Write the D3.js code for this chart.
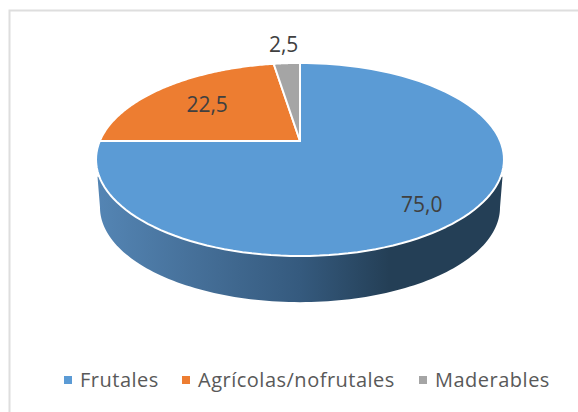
<!DOCTYPE html>
<html>
<head>
<meta charset="utf-8">
<script src="https://cdn.jsdelivr.net/npm/d3@7"></script>
<style>
  html, body { margin: 0; padding: 0; background: #fff; }
  svg { display: block; }
  text { font-family: "Open Sans", sans-serif; }
</style>
</head>
<body>
<div id="chart"></div>
<script>
const categories = ["Frutales", "Agrícolas/nofrutales", "Maderables"];
const values = [75.0, 22.5, 2.5];
const labels = ["75,0", "22,5", "2,5"];
const colors = ["#5b9bd5", "#ed7d31", "#a5a5a5"];

const width = 578, height = 412;
const svg = d3.select("#chart").append("svg")
  .attr("width", width)
  .attr("height", height);

// marco gris, solo arriba y a la izquierda
svg.append("path")
  .attr("d", `M9.5,${height} V10.5 H${width}`)
  .attr("fill", "none")
  .attr("stroke", "#dedede")
  .attr("stroke-width", 2);

// proyección en perspectiva del disco (ángulo desde arriba, horario)
const persp = -0.1917;
const makeProject = (cx, cy, rx, ry) => (angle, r = 1) => {
  const u = r * Math.sin(angle), v = -r * Math.cos(angle);
  const d = 1 + persp * v;
  return [cx + rx * u / d, cy + ry * v / d];
};
const topFace = makeProject(300, 141, 200.2, 93);
const rim = makeProject(300, 141, 202, 93);
const bottomFace = makeProject(300, 189.3, 196.3, 91.2);

const rad = d => d * Math.PI / 180;
const line = d3.line();
const samples = (from, to) => d3.range(0, 121).map(i => from + (to - from) * i / 120);

// gradiente del borde
const defs = svg.append("defs");
const grad = defs.append("linearGradient")
  .attr("id", "wall")
  .attr("gradientUnits", "userSpaceOnUse")
  .attr("x1", 97).attr("x2", 503).attr("y1", 0).attr("y2", 0);
[[0, "#5485b4"], [0.25, "#456f98"], [0.5, "#355a7e"], [0.72, "#243f56"], [1, "#243f56"]]
  .forEach(([o, c]) => grad.append("stop").attr("offset", o).attr("stop-color", c));

// pared lateral
const wallPts = [
  rim(rad(111)),
  ...samples(rad(101), rad(259)).map(a => bottomFace(a)),
  rim(rad(249)),
  ...samples(rad(249), rad(111)).map(a => topFace(a))
];
svg.append("path")
  .attr("d", line(wallPts) + "Z")
  .attr("fill", "url(#wall)");

// sectores
const pie = d3.pie().sort(null)(values);
svg.append("g").selectAll("path")
  .data(pie)
  .join("path")
  .attr("d", d => line([topFace(0, 0), ...samples(d.startAngle, d.endAngle).map(a => topFace(a))]) + "Z")
  .attr("fill", (d, i) => colors[i])
  .attr("stroke", "#fff")
  .attr("stroke-width", 2)
  .attr("stroke-linejoin", "round");

// etiquetas de datos
const labelR = [0.77, 0.66, 1.3];
const labelDy = [7, 0, 0];
svg.append("g").selectAll("text")
  .data(pie)
  .join("text")
  .attr("x", (d, i) => topFace((d.startAngle + d.endAngle) / 2, labelR[i])[0])
  .attr("y", (d, i) => topFace((d.startAngle + d.endAngle) / 2, labelR[i])[1] + labelDy[i])
  .attr("dy", "0.35em")
  .attr("text-anchor", "middle")
  .attr("font-size", 21)
  .attr("fill", "#404040")
  .text((d, i) => labels[i]);

// leyenda
const legendX = [64, 182, 419];
const legend = svg.append("g").selectAll("g")
  .data(categories)
  .join("g")
  .attr("transform", (d, i) => `translate(${legendX[i]},380)`);
legend.append("rect")
  .attr("y", -4).attr("width", 8).attr("height", 8)
  .attr("fill", (d, i) => colors[i]);
legend.append("text")
  .attr("x", 16)
  .attr("dy", "0.35em")
  .attr("font-size", 20)
  .attr("letter-spacing", 0.5)
  .attr("fill", "#595959")
  .text(d => d);
</script>
</body>
</html>
